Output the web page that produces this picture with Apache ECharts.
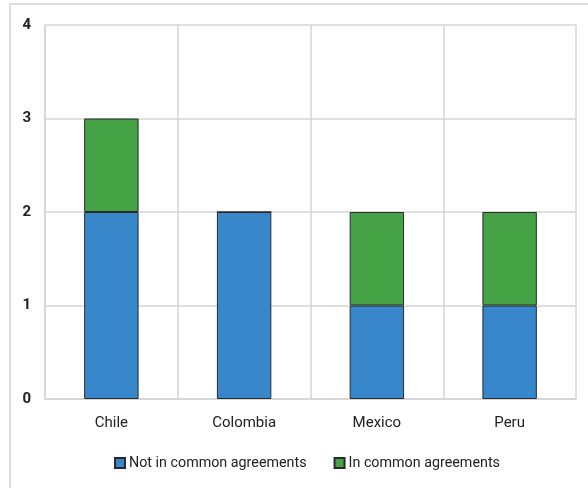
<!DOCTYPE html>
<html>
<head>
<meta charset="utf-8">
<script src="https://cdn.jsdelivr.net/npm/echarts@6/dist/echarts.min.js"></script>
<style>
  html, body { margin: 0; padding: 0; background: #fff; }
  #chart { width: 588px; height: 488px; }
</style>
</head>
<body>
<div id="chart"></div>
<script>
// Countries on the horizontal axis
const countries = ['Chile', 'Colombia', 'Mexico', 'Peru'];
// Agreement counts per country
const notInCommon = [2, 2, 1, 1];
const inCommon = [1, 0, 1, 1];
const seriesNames = ['Not in common agreements', 'In common agreements'];

const chart = echarts.init(document.getElementById('chart'), null, { renderer: 'canvas' });
const labelFont = { fontFamily: 'Roboto, "Noto Sans", sans-serif', fontSize: 15, color: '#222' };

chart.setOption({
  animation: false,
  backgroundColor: '#fff',
  graphic: [{
    type: 'polyline',
    shape: { points: [[10, 500], [10, 4], [600, 4]] },
    style: { stroke: '#dcdcdc', lineWidth: 2, fill: null },
    silent: true
  }],
  grid: { left: 45, right: 12, top: 25, bottom: 89 },
  legend: {
    bottom: 13,
    left: 109,
    itemWidth: 10,
    itemHeight: 10,
    itemGap: 27,
    icon: 'rect',
    textStyle: Object.assign({}, labelFont, { fontSize: 14.3, padding: [0, 0, 0, -1] }),
    data: seriesNames
  },
  xAxis: {
    type: 'category',
    data: countries,
    axisTick: { show: false },
    axisLine: { lineStyle: { color: '#d4d4d4', width: 1.5 } },
    splitLine: { show: true, lineStyle: { color: '#d4d4d4', width: 1.5 } },
    axisLabel: Object.assign({}, labelFont, { margin: 17 })
  },
  yAxis: {
    type: 'value',
    min: 0,
    max: 4,
    interval: 1,
    axisLine: { show: true, lineStyle: { color: '#d4d4d4', width: 1.5 } },
    axisTick: { show: false },
    splitLine: { lineStyle: { color: '#d4d4d4', width: 1.5 } },
    axisLabel: Object.assign({}, labelFont, { margin: 14, fontWeight: 'bold' })
  },
  series: [
    {
      name: seriesNames[0],
      type: 'bar',
      stack: 'total',
      barWidth: '41%',
      data: notInCommon,
      itemStyle: { color: '#3787ca', borderColor: '#2a2a2a', borderWidth: 1 }
    },
    {
      name: seriesNames[1],
      type: 'bar',
      stack: 'total',
      barWidth: '41%',
      data: inCommon,
      itemStyle: { color: '#45a346', borderColor: '#2a2a2a', borderWidth: 1 }
    }
  ]
});
</script>
</body>
</html>
